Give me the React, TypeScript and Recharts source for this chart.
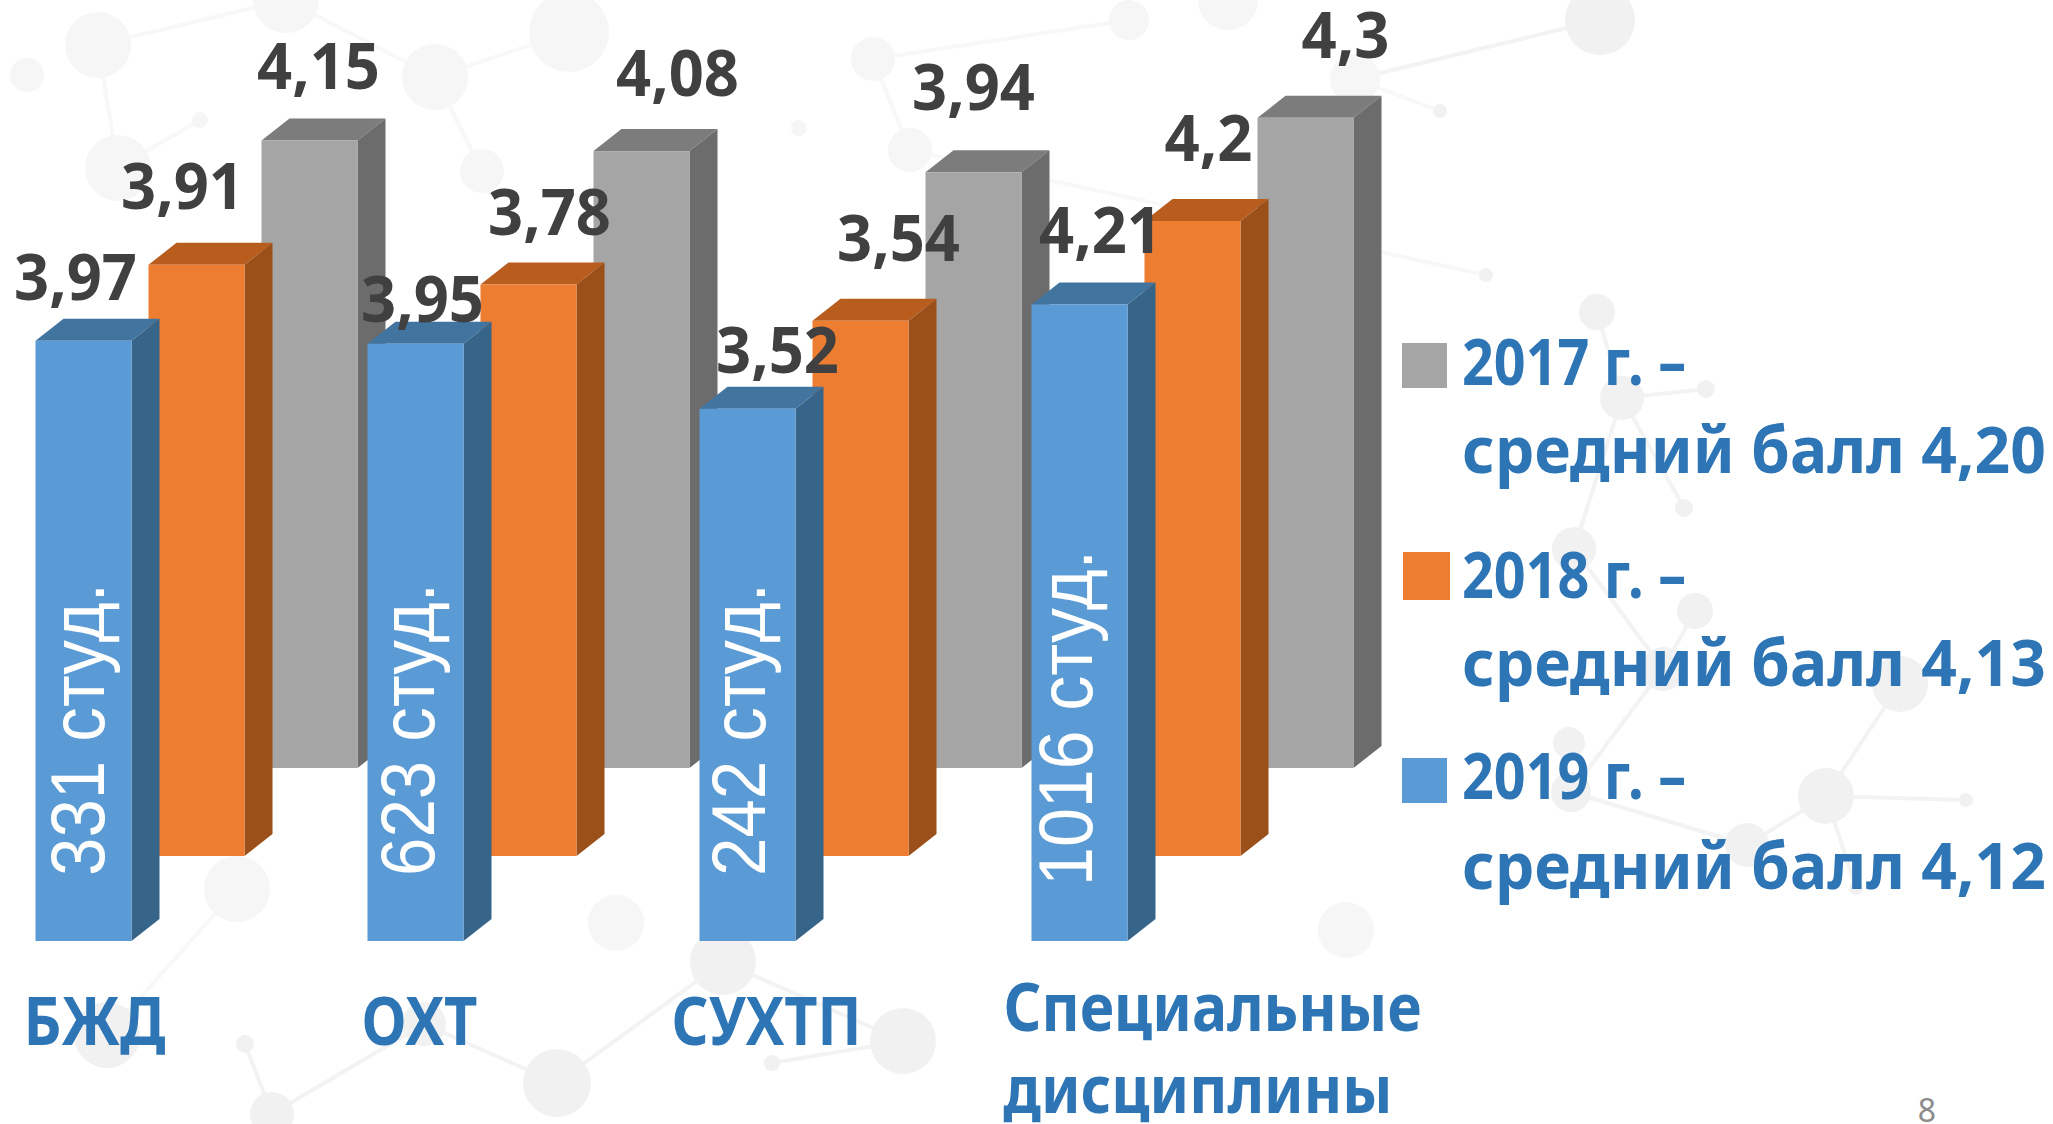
import { BarChart, Bar, XAxis, YAxis, LabelList } from 'recharts'

const categories = ['БЖД', 'ОХТ', 'СУХТП', 'Специальные дисциплины']
const values2017 = [4.15, 4.08, 3.94, 4.3]
const values2018 = [3.91, 3.78, 3.54, 4.2]
const values2019 = [3.97, 3.95, 3.52, 4.21]
const students = [331, 623, 242, 1016]

const legendYears = ['2017 г. –', '2018 г. –', '2019 г. –']
const legendAverages = ['средний балл 4,20', 'средний балл 4,13', 'средний балл 4,12']

const data = categories.map((name, i) => ({
  name,
  y2017: values2017[i],
  y2018: values2018[i],
  y2019: values2019[i],
}))

const WIDTH = 2053
const HEIGHT = 1124
const DEPTH_X = 28
const DEPTH_Y = 22
const FONT = '"Noto Sans", sans-serif'
const BLUE_TEXT = '#2E75B6'

const grayStyle = { front: '#A5A5A5', side: '#6C6C6C', top: '#7C7C7C', dx: 226, dy: 0 }
const orangeStyle = { front: '#ED7D31', side: '#9A5018', top: '#B85D1E', dx: 0, dy: 88 }
const blueStyle = { front: '#5B9BD5', side: '#376489', top: '#41749F', dx: -226, dy: 173 }

// value label shifts from the top centre of the front face, hand placed like in the slide
const labelShift2017 = [[9, -72], [36, -75], [0, -82], [40, -80]]
const labelShift2018 = [[-14, -76], [21, -69], [38, -80], [16, -80]]
const labelShift2019 = [[-8, -61], [7, -42], [30, -56], [21, -71]]

const studentShift = [0, -2, -3, -8]
const tickLeft = [-173, -167, -189, -189]

// faint molecule pattern of the slide background
const bgNodes = [
  [98, 45, 33], [286, 0, 33], [435, 77, 33], [569, 32, 40], [27, 75, 17], [118, 168, 33], [200, 120, 8],
  [482, 171, 22], [1597, 312, 18], [1622, 398, 22], [1706, 389, 9], [1684, 508, 9], [1574, 549, 22],
  [1695, 611, 18], [1663, 669, 22], [1900, 684, 28], [1826, 796, 28], [1966, 800, 7], [1747, 845, 22],
  [1571, 792, 20], [1569, 743, 16], [1856, 888, 7], [237, 889, 33], [107, 1035, 33], [245, 1044, 9],
  [272, 1114, 22], [424, 1024, 22], [557, 1083, 34], [616, 923, 28], [723, 962, 33], [903, 1041, 33],
  [772, 1063, 8], [1346, 930, 28], [1600, 20, 35], [1129, 20, 20], [1228, 0, 30], [873, 59, 22],
  [910, 150, 22], [1486, 275, 7], [1440, 111, 7], [1355, 79, 25], [799, 128, 8],
]
const bgLinks = [
  [0, 1], [1, 2], [2, 3], [0, 5], [5, 6], [2, 7], [8, 9], [9, 10], [9, 11], [9, 12], [12, 14], [13, 14],
  [14, 19], [15, 16], [16, 17], [16, 18], [18, 19], [16, 21], [22, 23], [24, 25], [25, 26], [26, 27],
  [27, 29], [29, 30], [30, 31], [33, 40], [34, 36], [36, 37], [40, 39], [37, 38],
]

// the slide's pattern is washed out behind the chart and sharper around it
const isBehindChart = (x: number, y: number) => x < 1440 && y < 960

function Background() {
  return (
    <svg width={WIDTH} height={HEIGHT} style={{ position: 'absolute', left: 0, top: 0 }}>
      {bgLinks.map(([a, b], i) => (
        <line
          key={i}
          x1={bgNodes[a][0]}
          y1={bgNodes[a][1]}
          x2={bgNodes[b][0]}
          y2={bgNodes[b][1]}
          stroke={isBehindChart(bgNodes[a][0], bgNodes[a][1]) ? '#F8F8F8' : '#F3F3F3'}
          strokeWidth={4}
        />
      ))}
      {bgNodes.map(([cx, cy, r], i) => (
        <circle key={i} cx={cx} cy={cy} r={r} fill={isBehindChart(cx, cy) ? '#F6F6F6' : '#F1F1F1'} />
      ))}
    </svg>
  )
}

function makeBox(style: typeof grayStyle) {
  return (props: any) => {
    const x = props.x + style.dx
    const y = props.y + style.dy
    const { width: w, height: h } = props
    return (
      <g>
        <polygon
          points={`${x},${y} ${x + DEPTH_X},${y - DEPTH_Y} ${x + w + DEPTH_X},${y - DEPTH_Y} ${x + w},${y}`}
          fill={style.top}
        />
        <polygon
          points={`${x + w},${y} ${x + w + DEPTH_X},${y - DEPTH_Y} ${x + w + DEPTH_X},${y + h - DEPTH_Y} ${x + w},${y + h}`}
          fill={style.side}
        />
        <rect x={x} y={y} width={w} height={h} fill={style.front} />
      </g>
    )
  }
}

function makeValueLabel(style: typeof grayStyle, shifts: number[][]) {
  return (props: any) => {
    const text = String(props.value).replace('.', ',')
    const cx = props.x + props.width / 2 + style.dx + shifts[props.index][0]
    const cy = props.y + style.dy + shifts[props.index][1]
    return (
      <text
        x={cx}
        y={cy + 20}
        textAnchor="middle"
        fontFamily={FONT}
        fontWeight={700}
        fontSize={64}
        fill="#404040"
        textLength={text.length === 4 ? 123 : 88}
        lengthAdjust="spacingAndGlyphs"
      >
        {text}
      </text>
    )
  }
}

function StudentLabel(props: any) {
  const count = students[props.index]
  const cx = props.x + blueStyle.dx + props.width / 2 - 7 + studentShift[props.index]
  const bottom = props.y + props.height + blueStyle.dy - (count > 999 ? 55 : 65)
  return (
    <text
      transform={`translate(${cx + 27},${bottom}) rotate(-90)`}
      fontFamily='"Liberation Sans", Arial, sans-serif'
      fontSize={76}
      fill="#FFFFFF"
      textLength={count > 999 ? 336 : 293}
      lengthAdjust="spacingAndGlyphs"
    >
      {count} студ.
    </text>
  )
}

function CategoryTick(props: any) {
  const i = props.index
  const words = String(props.payload.value).split(' ')
  const left = props.x + tickLeft[i]
  const widths = words.length > 1 ? [418, 389] : [i === 0 ? 142 : i === 1 ? 116 : 190]
  const baselines = words.length > 1 ? [1031, 1113] : [1045]
  return (
    <g>
      {words.map((word, k) => (
        <text
          key={word}
          x={left}
          y={baselines[k]}
          fontFamily={FONT}
          fontWeight={700}
          fontSize={66}
          fill={BLUE_TEXT}
          textLength={widths[k]}
          lengthAdjust="spacingAndGlyphs"
        >
          {word}
        </text>
      ))}
    </g>
  )
}

function LegendBlock() {
  const colors = [grayStyle.front, orangeStyle.front, blueStyle.front]
  const boxes = [[1402, 343, 45, 45], [1403, 552, 47, 48], [1402, 758, 45, 45]]
  const yearBase = [385, 598, 799]
  const avgBase = [473, 686, 889]
  const textProps = { fontFamily: FONT, fontWeight: 700, fontSize: 60, fill: BLUE_TEXT, lengthAdjust: 'spacingAndGlyphs' }
  return (
    <g>
      {legendYears.map((year, i) => (
        <g key={year}>
          <rect x={boxes[i][0]} y={boxes[i][1]} width={boxes[i][2]} height={boxes[i][3]} fill={colors[i]} />
          <text transform={`translate(1462,${yearBase[i]}) scale(1,1.07)`} textLength={224} {...textProps}>{year}</text>
          <text transform={`translate(1462,${avgBase[i]}) scale(1,1.07)`} textLength={584} {...textProps}>{legendAverages[i]}</text>
        </g>
      ))}
    </g>
  )
}

export default function App() {
  return (
    <div style={{ position: 'absolute', left: 0, top: 0, width: WIDTH, height: HEIGHT, background: '#FFFFFF', overflow: 'hidden' }}>
      <Background />
      <div style={{ position: 'absolute', left: 0, top: 0 }}>
        <BarChart
          width={WIDTH}
          height={HEIGHT}
          data={data}
          margin={{ top: 12, right: 694.5, bottom: 0, left: 30.5 }}
          barSize={96}
          barGap={17}
        >
          <XAxis
            dataKey="name"
            height={356}
            axisLine={false}
            tickLine={false}
            interval={0}
            tick={CategoryTick}
          />
          <YAxis hide domain={[0, 5]} />
          <Bar dataKey="y2017" isAnimationActive={false} shape={makeBox(grayStyle)}>
            <LabelList dataKey="y2017" content={makeValueLabel(grayStyle, labelShift2017)} />
          </Bar>
          <Bar dataKey="y2018" isAnimationActive={false} shape={makeBox(orangeStyle)}>
            <LabelList dataKey="y2018" content={makeValueLabel(orangeStyle, labelShift2018)} />
          </Bar>
          <Bar dataKey="y2019" isAnimationActive={false} shape={makeBox(blueStyle)}>
            <LabelList dataKey="y2019" content={makeValueLabel(blueStyle, labelShift2019)} />
            <LabelList dataKey="y2019" content={StudentLabel} />
          </Bar>
          <LegendBlock />
          <text x={1927} y={1122} textAnchor="middle" fontFamily={FONT} fontSize={32} fill="#8C8C8C">
            8
          </text>
        </BarChart>
      </div>
    </div>
  )
}
